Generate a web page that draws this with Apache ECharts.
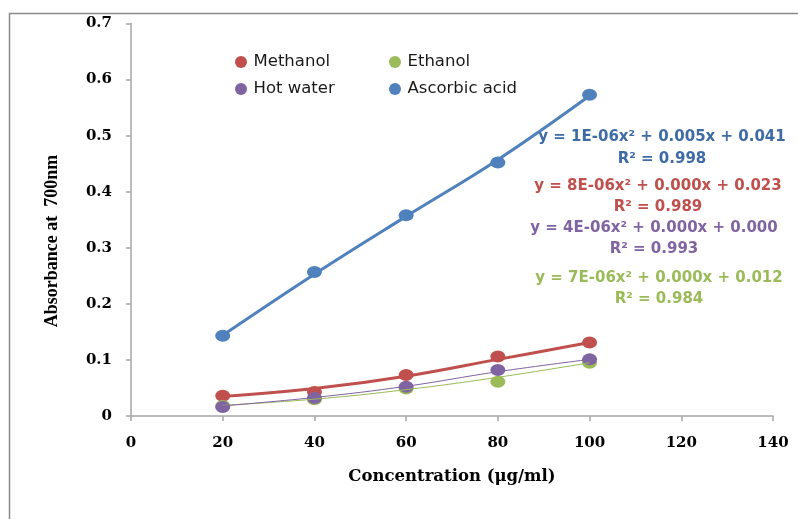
<!DOCTYPE html>
<html>
<head>
<meta charset="utf-8">
<script src="https://cdn.jsdelivr.net/npm/echarts@6/dist/echarts.min.js"></script>
<style>
html,body{margin:0;padding:0;background:#fff;}
#chart{width:798px;height:519px;}
</style>
</head>
<body>
<div id="chart"></div>
<script>
// Measured points
const concentrations = [20, 40, 60, 80, 100];
const methanol = [0.036, 0.043, 0.073, 0.106, 0.131];
const ethanol = [0.018, 0.030, 0.049, 0.061, 0.095];
const hotWater = [0.016, 0.032, 0.052, 0.082, 0.101];
const ascorbic = [0.143, 0.257, 0.358, 0.452, 0.573];
// Trendline values at the same concentrations
const methanolTrend = [0.035, 0.049, 0.071, 0.101, 0.131];
const ethanolTrend = [0.019, 0.030, 0.047, 0.069, 0.095];
const hotWaterTrend = [0.018, 0.033, 0.053, 0.079, 0.101];
const ascorbicTrend = [0.144, 0.253, 0.356, 0.457, 0.571];
const seriesNames = ['Methanol', 'Ethanol', 'Hot water', 'Ascorbic acid'];
const equations = [
  ['y = 1E-06x\u00b2 + 0.005x + 0.041', 'R\u00b2 = 0.998'],
  ['y = 8E-06x\u00b2 + 0.000x + 0.023', 'R\u00b2 = 0.989'],
  ['y = 4E-06x\u00b2 + 0.000x + 0.000', 'R\u00b2 = 0.993'],
  ['y = 7E-06x\u00b2 + 0.000x + 0.012', 'R\u00b2 = 0.984']
];
const xAxisTitle = 'Concentration (\u03bcg/ml)';
const yAxisTitle = 'Absorbance at  700nm';

const colors = {
  'Methanol': '#C0504D',
  'Ethanol': '#9BBB59',
  'Hot water': '#8064A2',
  'Ascorbic acid': '#4F81BD'
};
const eqColors = ['#3E6BA5', '#C0504D', '#8064A2', '#9BBB59'];
const eqPos = [[662, 137, 159], [658, 186, 207], [654, 228, 249], [659, 278, 299]];

function pairs(ys) { return concentrations.map((x, i) => [x, ys[i]]); }

const pointData = {
  'Methanol': methanol, 'Ethanol': ethanol, 'Hot water': hotWater, 'Ascorbic acid': ascorbic
};
const trendData = {
  'Methanol': methanolTrend, 'Ethanol': ethanolTrend, 'Hot water': hotWaterTrend, 'Ascorbic acid': ascorbicTrend
};
const widths = { 'Methanol': 3, 'Ethanol': 1, 'Hot water': 1, 'Ascorbic acid': 3 };

const series = [];
seriesNames.forEach(name => {
  series.push({
    name: name,
    type: 'scatter',
    data: pairs(pointData[name]),
    symbol: 'circle',
    symbolSize: [15, 12],
    itemStyle: { color: colors[name], opacity: 1 },
    z: 2
  });
});
seriesNames.forEach(name => {
  series.push({
    name: name,
    type: 'line',
    data: pairs(trendData[name]),
    smooth: 0.4,
    showSymbol: false,
    symbol: 'none',
    itemStyle: { color: colors[name] },
    lineStyle: { color: colors[name], width: widths[name] },
    z: widths[name] > 1 ? 4 : 3
  });
});

const legendPos = {
  'Methanol': [235, 52],
  'Ethanol': [389, 52],
  'Hot water': [235, 79],
  'Ascorbic acid': [389, 79]
};
const legends = seriesNames.map(name => ({
  data: [{ name: name, icon: 'circle' }],
  left: legendPos[name][0],
  top: legendPos[name][1],
  padding: 0,
  itemWidth: 13,
  itemHeight: 12,
  itemGap: 0,
  itemStyle: { color: colors[name] },
  textStyle: { fontFamily: 'DejaVu Sans', fontSize: 16.5, color: '#1a1a1a', lineHeight: 20, padding: [0, 0, 0, 1] }
}));

const graphics = [
  { type: 'rect', shape: { x: 9.5, y: 13.5, width: 820, height: 540 }, style: { fill: 'none', stroke: '#8a8a8a', lineWidth: 1.5 }, silent: true },
  { type: 'text', x: 52, y: 241, rotation: Math.PI / 2, style: { text: yAxisTitle, textAlign: 'center', textVerticalAlign: 'middle', fill: '#000', font: 'bold 18px "Liberation Serif"' } }
];
equations.forEach((eq, i) => {
  graphics.push({ type: 'text', x: eqPos[i][0], y: eqPos[i][1], style: { text: eq[0], textAlign: 'center', textVerticalAlign: 'middle', fill: eqColors[i], font: 'bold 15px "DejaVu Sans"' } });
  graphics.push({ type: 'text', x: eqPos[i][0], y: eqPos[i][2], style: { text: eq[1], textAlign: 'center', textVerticalAlign: 'middle', fill: eqColors[i], font: 'bold 15px "DejaVu Sans"' } });
});

const axisText = { fontFamily: 'DejaVu Serif', fontWeight: 'bold', fontSize: 15, color: '#000' };

const chart = echarts.init(document.getElementById('chart'), null, { renderer: 'canvas' });
chart.setOption({
  animation: false,
  backgroundColor: '#fff',
  grid: { left: 131, right: 25, top: 23.5, bottom: 103, containLabel: false },
  legend: legends,
  xAxis: {
    type: 'value', min: 0, max: 140, interval: 20,
    name: xAxisTitle, nameLocation: 'middle', nameGap: 52,
    nameTextStyle: { fontFamily: 'DejaVu Serif', fontWeight: 'bold', fontSize: 16.5, color: '#000' },
    axisLine: { show: true, lineStyle: { color: '#a6a6a6', width: 1.5 } },
    axisTick: { show: true, length: 5, lineStyle: { color: '#a6a6a6', width: 1.5 } },
    axisLabel: Object.assign({ margin: 20 }, axisText),
    splitLine: { show: false }
  },
  yAxis: {
    type: 'value', min: 0, max: 0.7, interval: 0.1,
    axisLine: { show: true, lineStyle: { color: '#a6a6a6', width: 1.5 } },
    axisTick: { show: true, length: 5, lineStyle: { color: '#a6a6a6', width: 1.5 } },
    axisLabel: Object.assign({ margin: 19 }, axisText),
    splitLine: { show: false }
  },
  series: series,
  graphic: graphics
});
</script>
</body>
</html>
